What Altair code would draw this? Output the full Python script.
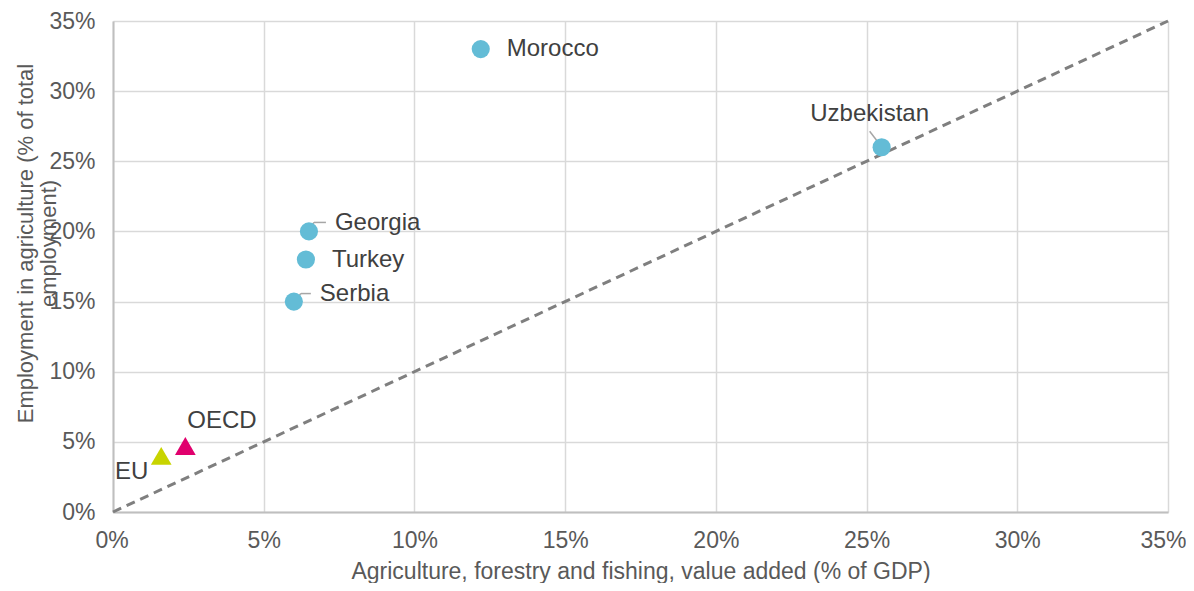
import altair as alt
import pandas as pd

# ---- data ----
countries = ["Morocco", "Uzbekistan", "Georgia", "Turkey", "Serbia", "OECD", "EU"]
value_added = [12.2, 25.5, 6.5, 6.4, 6.0, 2.4, 1.6]      # % of GDP
employment = [33.0, 26.0, 20.0, 18.0, 15.0, 4.7, 4.0]    # % of total employment
groups = ["country", "country", "country", "country", "country", "OECD", "EU"]
diag_values = [0, 35]
tick_values = [0, 5, 10, 15, 20, 25, 30, 35]

df = pd.DataFrame({"country": countries, "va": value_added,
                   "emp": employment, "group": groups})
diag_df = pd.DataFrame({"va": diag_values, "emp": diag_values})

FONT = "Liberation Sans"
TICK_COLOR = "#595959"
LABEL_COLOR = "#404040"

x_axis = alt.Axis(
    values=tick_values, labelExpr="datum.value + '%'",
    title="Agriculture, forestry and fishing, value added (% of GDP)",
    grid=True, ticks=False, labelPadding=17, labelFontSize=23,
    labelFlush=True, labelFlushOffset=18,
    labelColor=TICK_COLOR, titleFontSize=23, titleColor=TICK_COLOR,
    titleFontWeight="normal", titleBaseline="top", titleY=48,
    domainColor="#BFBFBF", domainWidth=2, gridColor="#D9D9D9", gridWidth=1.5,
)
y_axis = alt.Axis(
    values=tick_values, labelExpr="datum.value + '%'",
    title=["Employment in agriculture (% of total", "employment)"],
    grid=True, ticks=False, labelPadding=18, labelFontSize=23, labelFlush=False,
    labelColor=TICK_COLOR, titleFontSize=22, titleColor=TICK_COLOR,
    titleFontWeight="normal", titleAngle=270, titleBaseline="top",
    titleAlign="center", titleX=-98, titleY=222, titleLineHeight=23,
    domainColor="#BFBFBF", domainWidth=2, gridColor="#D9D9D9", gridWidth=1.5,
)

X = alt.X("va:Q", scale=alt.Scale(domain=[0, 35], nice=False), axis=x_axis)
Y = alt.Y("emp:Q", scale=alt.Scale(domain=[0, 35], nice=False), axis=y_axis)

diag = alt.Chart(diag_df).mark_line(
    color="#7F7F7F", strokeDash=[9, 6], strokeWidth=3
).encode(x=X, y=Y)

base = alt.Chart(df)


def leader(name, x0, y0, x1, y1):
    return base.transform_filter(alt.datum.country == name).mark_rule(
        color="#A6A6A6", strokeWidth=1.5,
        xOffset=x0, yOffset=y0, x2Offset=x1, y2Offset=y1
    ).encode(x=X, y=Y, x2=alt.X2("va"), y2=alt.Y2("emp"))


leaders = [
    leader("Georgia", 0, -1, 5, -9),
    leader("Georgia", 5, -9, 17, -9),
    leader("Serbia", 1, -1, 7, -8),
    leader("Serbia", 7, -8, 17, -8),
    leader("Uzbekistan", -12, -16, -2, -3),
]

circles = base.transform_filter(alt.datum.group == "country").mark_point(
    shape="circle", filled=True, size=330, color="#63BCD6", opacity=1
).encode(x=X, y=Y)

oecd = base.transform_filter(alt.datum.group == "OECD").mark_point(
    shape="triangle-up", filled=True, size=430, color="#E0006D", opacity=1
).encode(x=X, y=Y)

eu = base.transform_filter(alt.datum.group == "EU").mark_point(
    shape="triangle-up", filled=True, size=430, color="#C8D400", opacity=1
).encode(x=X, y=Y)

# label placement: (name, align, dx, dy)
label_specs = [
    ("Morocco", "left", 26, 0),
    ("Uzbekistan", "center", -12, -33),
    ("Georgia", "left", 26, -8),
    ("Turkey", "left", 26, 1),
    ("Serbia", "left", 26, -8),
    ("OECD", "left", 2, -25),
    ("EU", "right", -13, 16),
]
labels = [
    base.transform_filter(alt.datum.country == n).mark_text(
        align=a, baseline="middle", dx=dx, dy=dy, fontSize=24,
        font=FONT, color=LABEL_COLOR
    ).encode(x=X, y=Y, text="country:N")
    for n, a, dx, dy in label_specs
]

chart = alt.layer(diag, *leaders, circles, oecd, eu, *labels).properties(
    width=1055, height=491,
    autosize=alt.AutoSizeParams(type="none"),
    padding={"left": 105, "top": 13, "right": 18, "bottom": 71},
).configure(font=FONT).configure_view(stroke=None).configure_axis(
    labelFont=FONT, titleFont=FONT
)

chart.save("out.html", embed_options={"renderer": "svg", "actions": False})
